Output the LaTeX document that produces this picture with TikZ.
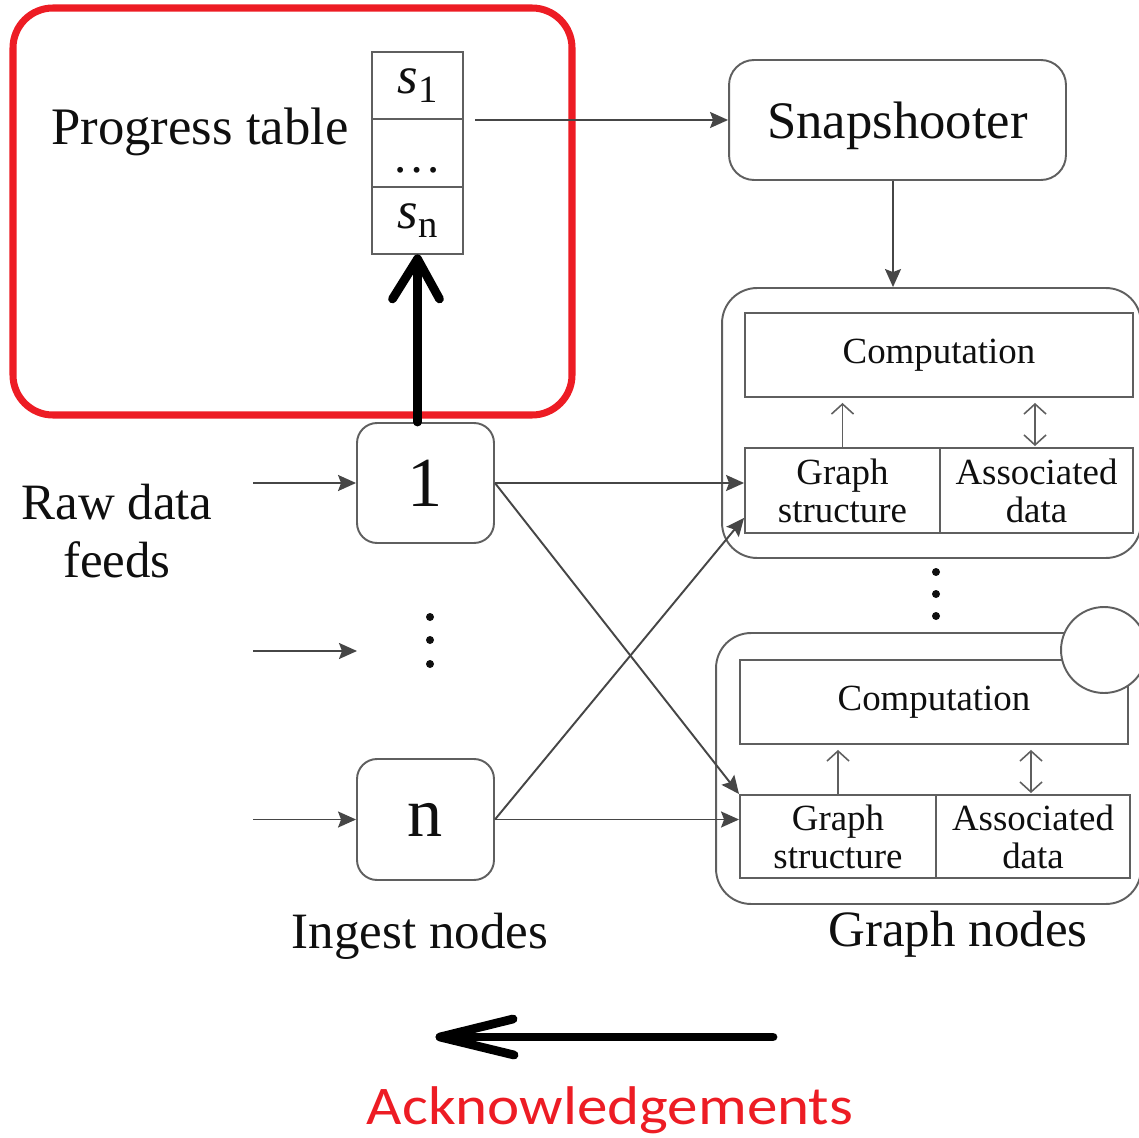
\documentclass[tikz,border=0pt]{standalone}
\usepackage{fontspec}
\setmainfont{Liberation Serif}
\newfontfamily\ackfont{Carlito}
\usetikzlibrary{arrows.meta,calc}
\definecolor{alertred}{RGB}{237,28,36}
\definecolor{linegray}{RGB}{95,95,95}
\definecolor{arrowgray}{RGB}{70,70,70}
\definecolor{inkdark}{RGB}{15,15,15}
\newcommand\fsz[2]{\fontsize{#1}{#2}\selectfont}

\begin{document}
\begin{tikzpicture}[x=0.02cm,y=-0.02cm,
  box/.style={draw=linegray,line width=1.1pt,inner sep=0pt,text=inkdark},
  roundbox/.style={box,rounded corners=#1},
  roundbox/.default=0.4cm,
  label/.style={text=inkdark,inner sep=0pt},
  feedarrow/.style={draw=arrowgray,line width=1.1pt,
    -{Stealth[length=0.36cm,width=0.32cm,inset=0.06cm]}},
  barb/.style={draw=linegray,line width=0.9pt,
    -{Straight Barb[length=0.2cm,width=0.44cm]}},
  barbboth/.style={draw=linegray,line width=0.9pt,
    {Straight Barb[length=0.2cm,width=0.44cm]}-{Straight Barb[length=0.2cm,width=0.44cm]}},
  hand/.style={draw=black,line width=5pt,line cap=round,line join=round},
  dot/.style={fill=inkdark}]

\useasboundingbox (0,0) rectangle (1139,1138);
\begin{scope}
\clip (0,0) rectangle (1139,1138);

% progress table frame
\draw[alertred,line width=4pt,rounded corners=0.8cm] (13,8) rectangle (572,415);
\node[label,font=\fsz{30}{32}] (ptlabel) at (200,132) {Progress table};

% progress table cells
\node[box,minimum width=1.82cm,minimum height=1.347cm,font=\fsz{30}{32}] (t1) at (417.5,85.7)
  {\textit{s}\raisebox{-5pt}{\fsz{22}{22}1}};
\node[box,minimum width=1.82cm,minimum height=1.347cm] (t2) at (417.5,153) {};
\node[box,minimum width=1.82cm,minimum height=1.347cm,font=\fsz{30}{32}] (tn) at (417.5,220.3)
  {\textit{s}\raisebox{-5pt}{\fsz{22}{22}n}};
\node[label,font=\fsz{28}{30}] (tdots) at (417.5,170) {\ldots};

% snapshooter
\node[roundbox=0.5cm,minimum width=6.74cm,minimum height=2.4cm,text depth=0pt,font=\fsz{30}{32}] (snap)
  at (897.5,120) {Snapshooter};
\coordinate (tabout) at (475,120);
\draw[feedarrow] (tabout) -- (snap.west);

% graph node 1
\node[roundbox=0.7cm,minimum width=8.38cm,minimum height=5.4cm] (g1) at (931.5,423) {};
\node[box,minimum width=7.76cm,minimum height=1.68cm,font=\fsz{21}{22}] (comp1) at (939,355) {Computation};
\node[box,minimum width=3.9cm,minimum height=1.7cm,align=center,font=\fsz{21}{21.5}] (gs1)
  at (842.5,490.5) {Graph\\structure};
\node[box,minimum width=3.86cm,minimum height=1.7cm,align=center,font=\fsz{21}{21.5}] (ad1)
  at (1036.5,490.5) {Associated\\data};
\draw[barb,shorten >=0.1cm] (gs1.north) -- (gs1.north |- comp1.south);
\draw[barbboth,shorten >=0.1cm,shorten <=0.02cm] (ad1.north -| 1035,0) -- (comp1.south -| 1035,0);
\draw[feedarrow] (snap.south -| 893,0) -- (g1.north -| 893,0);

% dots between graph nodes
\fill[dot] (936,572) circle (4);
\fill[dot] (936,594) circle (4);
\fill[dot] (936,616) circle (4);

% graph node 2
\node[roundbox=0.7cm,minimum width=8.5cm,minimum height=5.42cm] (g2) at (928.5,768.5) {};
\node[box,minimum width=7.76cm,minimum height=1.68cm,font=\fsz{21}{22}] (comp2) at (934,702) {Computation};
\node[box,minimum width=3.92cm,minimum height=1.66cm,align=center,font=\fsz{21}{21.5}] (gs2)
  at (838,836.5) {Graph\\structure};
\node[box,minimum width=3.88cm,minimum height=1.66cm,align=center,font=\fsz{21}{21.5}] (ad2)
  at (1033,836.5) {Associated\\data};
\draw[barb,shorten >=0.1cm] (gs2.north) -- (gs2.north |- comp2.south);
\draw[barbboth,shorten >=0.1cm,shorten <=0.02cm] (ad2.north -| 1031,0) -- (comp2.south -| 1031,0);
\node[circle,draw=linegray,line width=1.1pt,fill=white,minimum size=1.72cm,inner sep=0pt] (knob)
  at (1104,650) {};

% ingest nodes
\node[roundbox=0.4cm,minimum width=2.74cm,minimum height=2.4cm,font=\fsz{40}{42}] (ing1)
  at (425.5,483) {1};
\node[roundbox=0.4cm,minimum width=2.74cm,minimum height=2.42cm,font=\fsz{40}{42}] (ingn)
  at (425.5,819.5) {n};
\fill[dot] (430,617) circle (4);
\fill[dot] (430,640) circle (4);
\fill[dot] (430,664) circle (4);

% raw data feeds
\node[label,align=center,font=\fsz{29}{33}] (raw) at (117,531) {Raw data\\feeds};
\coordinate (feed1) at (253,483);
\coordinate (feedm) at (253,651);
\coordinate (feedmend) at (357,651);
\coordinate (feedn) at (253,819.5);
\draw[feedarrow] (feed1) -- (feed1 -| ing1.west);
\draw[feedarrow] (feedm) -- (feedmend);
\draw[feedarrow] (feedn) -- (feedn -| ingn.west);

% ingest to graph connections
\coordinate (gs1low) at ($(gs1.south west)+(0,-16)$);
\draw[feedarrow] (ing1.east) -- (ing1.east -| gs1.west);
\draw[feedarrow] (ing1.east) -- (gs2.north west);
\draw[feedarrow] (ingn.east) -- (gs1low);
\draw[feedarrow] (ingn.east) -- (ingn.east -| gs2.west);

% captions
\node[label,font=\fsz{29}{31}] (ingcap) at (420,936) {Ingest nodes};
\node[label,font=\fsz{29}{31}] (graphcap) at (958,934) {Graph nodes};

% progress report arrow into the table
\coordinate (reptail) at (tn.south |- ing1.north);
\coordinate (reptip) at ($(tn.south)+(0,4)$);
\draw[hand] (reptail) -- (reptip);
\draw[hand] ($(reptip)+(-25,40)$) -- (reptip) -- ($(reptip)+(22,40)$);

% acknowledgement arrow
\coordinate (acktail) at (773,1037);
\coordinate (acktip) at (440,1037);
\draw[hand] (acktail) -- (acktip);
\draw[hand] (513,1019) -- (acktip) -- (514,1055);
\node[inner sep=0pt,text=alertred,font=\ackfont\fsz{31}{33}] (ack) at (610,1110)
  {\scalebox{1.12}[1]{Acknowledgements}};
\end{scope}
\end{tikzpicture}
\end{document}
